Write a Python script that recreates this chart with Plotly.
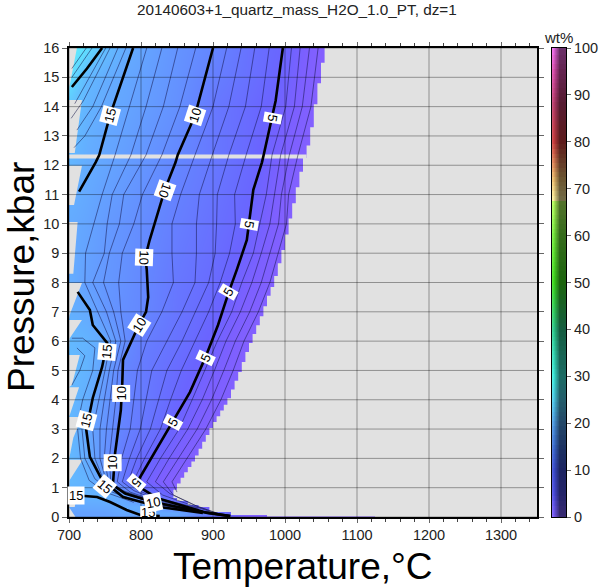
import plotly.graph_objects as go

TITLE = "20140603+1_quartz_mass_H2O_1.0_PT, dz=1"
T_TICKS = [700, 800, 900, 1000, 1100, 1200, 1300]
P_TICKS = list(range(0, 17))
BAR_TICKS = list(range(0, 101, 10))

# coarse wt% table
GRID_T = [700, 725, 750, 775, 800, 850, 900, 950, 1000, 1050, 1100]
GRID_P = [0, 0.15, 0.35, 0.7, 1.2, 2, 3, 4, 5, 6, 7, 8, 10, 12, 14, 15, 16]
GRID_Z = [
    [14, 14, 14, 14, 14, 14, 6, 2, 1, 1, 1],
    [14, 14, 14, 15, 15, 15, 8, 3, 1, 1, 1],
    [15, 15, 15, 15.5, 16, 10, 2, 1, 1, 1, 1],
    [15, 17, 17, 15, 10, 4, 1, 1, 1, 1, 1],
    [18, 17, 14, 8, 4.8, 1, 1, 1, 1, 1, 1],
    [18, 15.6, 11.8, 8.3, 6, 3, 1, 1, 1, 1, 1],
    [18, 15, 12, 9.6, 8, 4.4, 1.5, 1, 1, 1, 1],
    [18, 16, 12.5, 9.8, 8.5, 5.4, 2.6, 1, 1, 1, 1],
    [18.5, 17, 13.5, 10, 8.5, 6, 3.6, 1, 1, 1, 1],
    [18, 17, 15.2, 11.5, 9, 7, 4.5, 1.5, 1, 1, 1],
    [16.5, 15.3, 12.5, 11.2, 10.3, 7.5, 5.3, 2.2, 1, 1, 1],
    [16, 13.7, 12.6, 11.6, 10.4, 7.8, 6, 3.2, 1, 1, 1],
    [15.5, 14.5, 13, 12, 11, 8.8, 6.9, 5, 1.5, 1, 1],
    [17.5, 15.7, 14.6, 13.5, 12.3, 10, 7.9, 5.7, 2.8, 0.5, 0.5],
    [20, 17, 15.3, 14.6, 13.6, 11.5, 8, 6, 3.8, 1, 0.5],
    [24, 18, 16, 15, 14, 11.8, 9, 6.8, 4.5, 1.2, 0.5],
    [27, 23, 19, 16, 14.7, 12, 10, 7, 5, 1.5, 0.5],
]

# right edge of the data region
EDGE_T = [1060, 1055, 1050, 1045, 1040, 1035, 1030, 1025, 1020, 1015, 1010, 1005, 1000, 995, 990, 985, 980,
          975, 970, 965, 960, 955, 950, 945, 940, 935, 930, 925, 920, 915, 910, 905, 900, 895, 890, 885,
          880, 875, 870, 865, 860, 855, 850, 845, 850, 865, 880, 895, 925, 975, 1350]
EDGE_P = [16, 15.5, 14.8, 14.08, 13.3, 12.67, 12.25, 11.78, 11.25, 10.7, 10.18, 9.64, 9.11, 8.66, 8.22, 7.85,
          7.55, 7.19, 6.85, 6.54, 6.24, 5.94, 5.63, 5.29, 4.95, 4.65, 4.35, 4.05, 3.83, 3.63, 3.44, 3.24, 3.04,
          2.8, 2.57, 2.33, 2.1, 1.89, 1.71, 1.53, 1.34, 1.14, 0.93, 0.65, 0.55, 0.41, 0.34, 0.17, 0.07, 0.02, 0.02]

# left saw-tooth edge
LEFT_T = [700, 711, 700.5, 700, 718, 708, 700, 700, 718, 707, 700, 700, 712, 706, 700, 700, 718, 701, 700, 718,
          701, 700, 715, 704, 700, 714, 701, 700, 718, 706, 700, 719, 701, 700, 712, 708, 700, 709, 700]
LEFT_P = [16, 16, 14.67, 14.23, 14.23, 12.42, 12.42, 11.98, 11.98, 10.64, 10.64, 10.06, 10.06, 8.3, 8.3, 7.98,
          7.98, 6.9, 6.72, 6.72, 6.1, 5.53, 5.53, 4.5, 4.43, 4.43, 3.48, 3.41, 3.41, 2.7, 1.95, 1.95, 1.26,
          0.92, 0.92, 0.34, 0.34, 0, 0]
GAP_T = [700, 1030, 1030, 700]
GAP_P = [12.23, 12.23, 12.37, 12.37]

# thick isopleths
THICK = {
    "5": ([997, 987, 971, 968, 956, 950, 947, 933, 922, 907, 889, 868, 844, 812, 794, 798, 822, 864, 892, 924],
          [16, 14.2, 12.42, 12.1, 11.16, 10, 9.45, 8.43, 7.68, 6.55, 5.42, 4.26, 3.24, 1.88, 1.16, 1.02, 0.65, 0.34, 0.14, 0.03]),
    "10": ([900, 875, 851, 848, 833, 812, 806, 808, 810, 807, 797, 775, 774, 772, 764, 761, 778, 817, 886, 924],
           [16, 13.7, 12.35, 12.1, 11.16, 9.45, 8.87, 8.43, 7.5, 7, 6.55, 5.36, 4.57, 3.65, 2.18, 1.09, 0.8, 0.51, 0.17, 0.03]),
    "15a": ([789, 757, 742, 737, 714], [16, 13.7, 12.35, 12.1, 11.1]),
    "15b": ([712, 729, 733, 753, 746, 733, 724, 729, 746, 775, 826, 886],
            [7.68, 7.06, 6.55, 5.94, 5.12, 4.06, 2.97, 2.05, 1.26, 0.68, 0.34, 0.14]),
    "15c": ([704, 739, 757, 780, 799, 826], [0.75, 0.68, 0.51, 0.24, 0.07, 0.03]),
    "20": ([746, 725, 704], [16, 15.3, 14.67]),
}

# thin isopleths, T at shared pressures
THIN_P = [16, 14, 12.35, 11, 10, 9, 8, 7, 6, 5, 4, 3, 2, 1.2]
THIN = {
    1: [1046, 1036, 1018, 1005, 1002, 990, 979, 963, 943, 928, 911, 890, 864, 843],
    2: [1034, 1024, 1006, 995, 991, 979, 967, 951, 931, 915, 898, 878, 852, 831],
    3: [1021, 1013, 994, 985, 979, 967, 954, 938, 918, 902, 885, 865, 839, 820],
    4: [1009, 1001, 982, 974, 965, 956, 940, 926, 906, 889, 871, 853, 827, 808],
    6: [978, 967, 946, 930, 931, 923, 910, 894, 875, 856, 841, 827, 805, 789],
    7: [958, 945, 922, 906, 905, 903, 894, 875, 857, 836, 824, 813, 794, 782],
    8: [939, 922, 899, 881, 877, 877, 875, 857, 836, 815, 807, 799, 784, 774],
    9: [919, 900, 875, 855, 843, 843, 845, 829, 808, 795, 790, 785, 773, 767],
    11: [876, 854, 829, 802, 790, 774, 769, 772, 778, 768, 765, 761, 756, 758],
    12: [851, 831, 807, 776, 770, 756, 748, 762, 772, 762, 757, 752, 749, 755],
    13: [829, 807, 786, 760, 753, 749, 733, 752, 765, 756, 749, 743, 743, 752],
    14: [808, 784, 764, 746, 735, 723, 722, 740, 758, 750, 741, 733, 736, 749],
}
LOW_T = {1: [850], 2: [845, 880, 910], 3: [840, 875, 905], 4: [830, 870, 900], 6: [800, 825, 880], 7: [795, 825, 880],
         8: [790, 825, 880], 9: [785, 825, 880], 11: [775, 830, 885], 12: [778, 830, 885], 13: [780, 830, 885], 14: [782, 830, 885]}
LOW_P = {1: [0.85], 2: [0.75, 0.34, 0.1], 3: [0.8, 0.4, 0.13], 4: [0.75, 0.4, 0.15], 6: [0.95, 0.63, 0.3], 7: [0.92, 0.6, 0.26],
         8: [0.9, 0.55, 0.23], 9: [0.85, 0.5, 0.2], 11: [0.9, 0.42, 0.16], 12: [0.85, 0.41, 0.155], 13: [0.8, 0.4, 0.15], 14: [0.75, 0.4, 0.145]}
EXTRA = [
    ([779, 745, 722, 707], [16, 14, 13, 12.6]),
    ([768, 733, 711], [16, 14, 13.2]),
    ([757, 720, 703], [16, 14.2, 13.6]),
    ([751, 708], [16, 14.1]),
    ([732, 704], [16, 15]),
    ([724, 704], [16, 15.3]),
    ([704, 719, 736, 733, 719, 712], [6.1, 6.1, 5.77, 5, 4, 3.2]),
    ([711, 722, 715, 704], [5.77, 5.5, 5, 4.5]),
    ([718, 722, 736, 760, 800], [3, 2, 1.3, 0.85, 0.5]),
    ([712, 716, 728, 750, 790], [3, 2, 1.25, 0.85, 0.5]),
]

LABELS_TEXT = ["15", "10", "5", "10", "10", "5", "5", "10", "15", "5", "5", "10", "15", "10", "5", "15", "10", "15"]
LABELS_T = [757, 875, 983, 833, 805, 950, 922, 797, 753, 889, 844, 773, 724, 761, 794, 750, 817, 710]
LABELS_P = [13.7, 13.7, 13.6, 11.16, 8.87, 10, 7.68, 6.55, 5.64, 5.42, 3.24, 4.2, 3.3, 1.85, 1.16, 1.05, 0.51, 0.75]
LABELS_ANGLE = [-75, -72, 100, 110, 92, 100, -60, -58, -85, -65, -62, -90, -75, -90, 130, 40, -12, 0]

DATA_STOPS = [(0, "#8a5fff"), (3, "#7c60ff"), (5, "#6a64ff"), (10, "#6486ff"), (15, "#64a8ff"), (20, "#62c4ff"), (23, "#60dcff"), (25, "#60e8ff"),
              (30, "#40f0e0"), (100, "#40f0e0")]
BAR_STOPS = [(0, "#8060ff"), (5, "#5050e8"), (10, "#4050d8"), (15, "#4070d8"), (20, "#50a0e8"), (25, "#50d0f0"),
             (30, "#40f0e0"), (40, "#30d090"), (50, "#40e020"), (60, "#78f040"), (67, "#b8ff60"), (67.5, "#fff4a0"),
             (72, "#f0c070"), (80, "#d04040"), (88, "#c04070"), (95, "#e050b0"), (100, "#f070f0")]
BAR_SHADES = [0.0, 0.1, 0.2, 0.3, 0.4, 0.5, 0.6, 0.7, 0.8, 0.9, 1.0]
BAR_LEVELS = list(range(0, 101))


def hex_rgb(h):
    return [int(h[i:i + 2], 16) for i in (1, 3, 5)]


def shade(h, t):
    r = hex_rgb(h)
    if t < 0.5:
        a = (0.5 - t) * 1.6
        r = [c + (255 - c) * a for c in r]
    else:
        r = [c * (1 - (t - 0.5) * 1.1) for c in r]
    return "rgb(%d,%d,%d)" % tuple(r)


PLOT_SCALE = [[v / 100, c] for v, c in DATA_STOPS]
fig = go.Figure()
fig.add_trace(go.Heatmap(x=GRID_T, y=GRID_P, z=GRID_Z, colorscale=PLOT_SCALE, zmin=0, zmax=100,
                         zsmooth="best", showscale=False, hoverinfo="skip"))
GREY = "#e1e1e1"
fig.add_trace(go.Scatter(x=[1350] + EDGE_T + [1350], y=[16] + EDGE_P + [16], mode="lines", fill="toself",
                         fillcolor=GREY, line=dict(width=0, color=GREY, shape="hv"), hoverinfo="skip"))
fig.add_trace(go.Scatter(x=LEFT_T, y=LEFT_P, mode="lines", fill="toself", fillcolor=GREY,
                         line=dict(width=0, color=GREY), hoverinfo="skip"))
fig.add_trace(go.Scatter(x=GAP_T, y=GAP_P, mode="lines", fill="toself", fillcolor=GREY,
                         line=dict(width=0, color=GREY), hoverinfo="skip"))
THIN_LINE = dict(color="rgba(20,20,70,0.75)", width=0.7)
for lev, ts in THIN.items():
    fig.add_trace(go.Scatter(x=ts + LOW_T[lev], y=THIN_P + LOW_P[lev], mode="lines", line=THIN_LINE, hoverinfo="skip"))
for ts, ps in EXTRA:
    fig.add_trace(go.Scatter(x=ts, y=ps, mode="lines", line=THIN_LINE, hoverinfo="skip"))
grid_x, grid_y = [], []
for t in T_TICKS:
    grid_x += [t, t, None]
    grid_y += [0, 16, None]
for p in P_TICKS:
    grid_x += [700, 1350, None]
    grid_y += [p, p, None]
fig.add_trace(go.Scatter(x=grid_x, y=grid_y, mode="lines", line=dict(color="rgba(0,0,0,0.36)", width=1), hoverinfo="skip"))
for name, (ts, ps) in THICK.items():
    fig.add_trace(go.Scatter(x=ts, y=ps, mode="lines", line=dict(color="black", width=2.6), hoverinfo="skip"))
fig.add_trace(go.Scatter(x=[810], y=[0.1], mode="markers+text", text=["15"], textposition="middle center",
                         marker=dict(symbol="square", size=16, color="white"), textfont=dict(family="Liberation Sans", size=13, color="black"),
                         cliponaxis=True, hoverinfo="skip"))

for i, c in enumerate(BAR_SHADES):
    scale = [[v / 100, shade(h, c)] for v, h in BAR_STOPS]
    fig.add_trace(go.Heatmap(x=[c], y=BAR_LEVELS, z=[[v] for v in BAR_LEVELS], colorscale=scale, zmin=0, zmax=100,
                             showscale=False, xaxis="x2", yaxis="y2", hoverinfo="skip"))

ann = []
for tx, t, p, ang in zip(LABELS_TEXT, LABELS_T, LABELS_P, LABELS_ANGLE):
    ann.append(dict(x=t, y=p, xref="x", yref="y", text=tx, textangle=ang, showarrow=False, bgcolor="white",
                    font=dict(family="Liberation Sans", size=13, color="black"), borderpad=1))
PW, PH = 603 - 69 - 37, 587 - 48 - 70


def px(x):
    return (x - 69) / PW


def py(y):
    return 1 - (y - 48) / PH


CENTER = dict(xref="paper", yref="paper", xanchor="center", yanchor="middle", showarrow=False)
fig.update_layout(
    width=603, height=587, autosize=False, showlegend=False,
    margin=dict(l=69, r=37, t=48, b=70, pad=0, autoexpand=False), paper_bgcolor="white", plot_bgcolor=GREY,
    font=dict(family="Liberation Sans", size=15, color="#222"),
    xaxis=dict(domain=[0, 468 / PW], range=[700, 1350], tickvals=T_TICKS, ticks="outside", ticklen=4, tickcolor="#666",
               showgrid=False, zeroline=False, showline=True, linecolor="black", linewidth=1.5, mirror="allticks",
               tickfont=dict(size=14.5), minor=dict(dtick=20, ticks="outside", ticklen=3, tickcolor="#444", showgrid=False)),
    yaxis=dict(domain=[0, 1], range=[0, 16], tickvals=P_TICKS, ticks="outside", ticklen=5, tickcolor="#666",
               showgrid=False, zeroline=False, showline=True, linecolor="black", linewidth=1.5, mirror="allticks",
               tickfont=dict(size=14.5)),
    xaxis2=dict(domain=[(552 - 69) / PW, 1], range=[-0.05, 1.05], showticklabels=False, ticks="", showgrid=False, zeroline=False,
                showline=True, linecolor="black", linewidth=1, mirror=True, anchor="y2"),
    yaxis2=dict(domain=[0, 1], range=[0, 100], tickvals=BAR_TICKS, side="right", anchor="x2", ticks="outside", ticklen=4,
                tickcolor="#666", showgrid=False, zeroline=False, showline=True, linecolor="black", linewidth=1, mirror=True,
                tickfont=dict(size=14.5)),
    annotations=ann + [
        dict(x=px(297), y=py(9), text=TITLE, font=dict(size=15.3), **CENTER),
        dict(x=px(558), y=py(38), text="wt%", font=dict(size=15), **CENTER),
        dict(x=px(303), y=py(566), text="Temperature,°C", font=dict(size=37, color="black"), **CENTER),
        dict(x=px(21), y=py(277), text="Pressure,kbar", textangle=-90, font=dict(size=37, color="black"), **CENTER),
    ],
)
fig.write_html("out.html", config=dict(displayModeBar=False), post_script="document.body.style.margin='0';")
